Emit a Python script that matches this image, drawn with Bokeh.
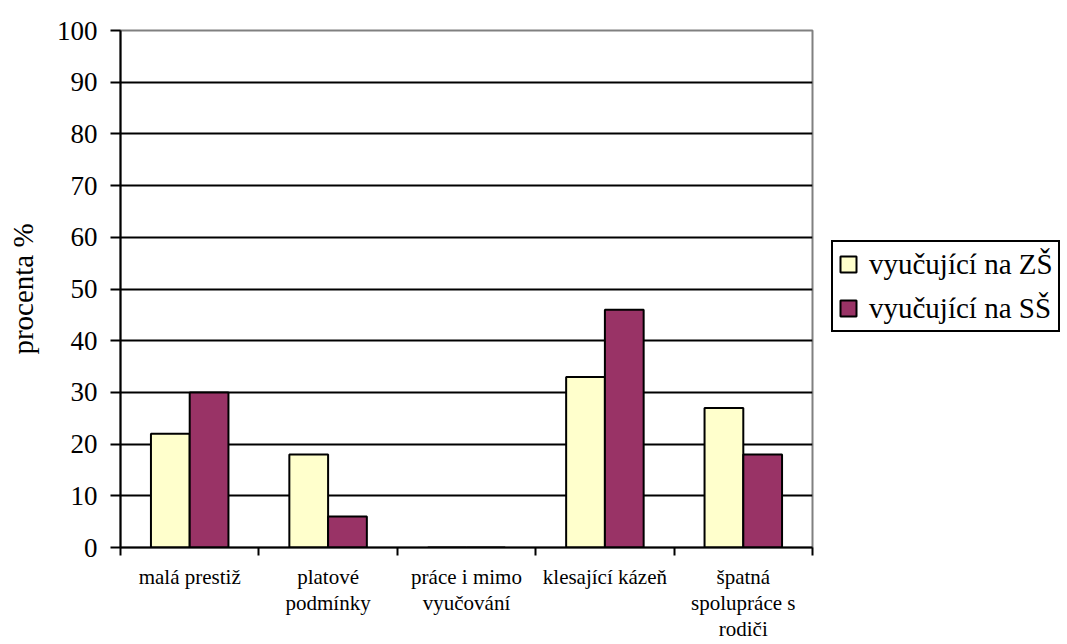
from bokeh.plotting import figure
from bokeh.layouts import row
from bokeh.models import (FactorRange, Range1d, LinearAxis, CategoricalAxis, FixedTicker,
                          ColumnDataSource, Legend, LegendItem)
from bokeh.transform import dodge
from bokeh.embed import file_html
from bokeh.resources import INLINE

categories = ["malá prestiž", "platové\npodmínky", "práce i mimo\nvyučování",
              "klesající kázeň", "špatná\nspolupráce s\nrodiči"]
zs_values = [22, 18, 0, 33, 27]
ss_values = [30, 6, 0, 46, 18]
series_names = ["vyučující na ZŠ", "vyučující na SŠ"]
y_ticks = [0, 10, 20, 30, 40, 50, 60, 70, 80, 90, 100]

FONT = "Liberation Serif"
ZS_COLOR = "#FFFFCC"
SS_COLOR = "#993366"

src = ColumnDataSource(dict(cat=categories, zs=zs_values, ss=ss_values))

p = figure(width=830, height=644, x_range=FactorRange(factors=categories, range_padding=0),
           y_range=Range1d(0, 100), output_backend="svg", toolbar_location=None,
           x_axis_location=None, y_axis_location=None,
           min_border_left=120, min_border_right=18, min_border_top=30, min_border_bottom=97,
           background_fill_color="white", border_fill_color="white")

p.outline_line_color = "#808080"
p.outline_line_width = 2
p.xgrid.visible = False
p.ygrid.ticker = FixedTicker(ticks=y_ticks[1:-1])
p.ygrid.grid_line_color = "black"
p.ygrid.grid_line_width = 2

bw = 0.28
r1 = p.vbar(x=dodge("cat", -bw/2, range=p.x_range), top="zs", width=bw, source=src,
            fill_color=ZS_COLOR, line_color="black", line_width=2)
r2 = p.vbar(x=dodge("cat", bw/2, range=p.x_range), top="ss", width=bw, source=src,
            fill_color=SS_COLOR, line_color="black", line_width=2)

# y axis
yax = LinearAxis(ticker=FixedTicker(ticks=y_ticks), axis_label="procenta %")
yax.axis_line_color = "black"; yax.axis_line_width = 2
yax.major_tick_line_color = "black"; yax.major_tick_line_width = 2
yax.major_tick_out = 10; yax.major_tick_in = 0
yax.minor_tick_line_color = None
yax.major_label_text_font = FONT; yax.major_label_text_font_size = "27px"
yax.major_label_text_color = "black"
yax.major_label_standoff = 13
yax.axis_label_text_font = FONT; yax.axis_label_text_font_size = "29px"
yax.axis_label_text_font_style = "normal"; yax.axis_label_text_color = "black"
yax.axis_label_standoff = 15
p.add_layout(yax, "left")

# boundary tick axis (synthetic coordinates of the factor range: 0..n), minor ticks only
bax = LinearAxis(ticker=FixedTicker(ticks=[], minor_ticks=list(range(len(categories) + 1))))
bax.axis_line_color = "black"; bax.axis_line_width = 2
bax.major_tick_line_color = None
bax.minor_tick_line_color = "black"; bax.minor_tick_line_width = 2
bax.minor_tick_out = 8; bax.minor_tick_in = 0
bax.major_label_standoff = 0
p.add_layout(bax, "below")

cax = CategoricalAxis()
cax.axis_line_color = None
cax.major_tick_line_color = None
cax.minor_tick_line_color = None
cax.major_label_text_font = FONT; cax.major_label_text_font_size = "21px"
cax.major_label_text_line_height = 1.1
cax.major_label_text_color = "black"
cax.major_label_standoff = 3
cax.major_label_orientation = "horizontal"
p.add_layout(cax, "below")

# legend panel (separate figure to the right); its range holds only the series names,
# so the category bars given to it are not placed anywhere and only their legend swatches show
lp = figure(width=237, height=644, x_range=FactorRange(factors=series_names),
            y_range=Range1d(0, 100), output_backend="svg", toolbar_location=None,
            x_axis_location=None, y_axis_location=None,
            min_border_left=0, min_border_right=0, min_border_top=0, min_border_bottom=0,
            background_fill_color="white", border_fill_color="white")
lp.outline_line_color = None
lp.xgrid.visible = False
lp.ygrid.visible = False
lr1 = lp.vbar(x="cat", top="zs", width=bw, source=src,
              fill_color=ZS_COLOR, line_color="black", line_width=2)
lr2 = lp.vbar(x="cat", top="ss", width=bw, source=src,
              fill_color=SS_COLOR, line_color="black", line_width=2)

legend = Legend(items=[LegendItem(label=series_names[0], renderers=[lr1]),
                       LegendItem(label=series_names[1], renderers=[lr2])],
                location=(1, 215))
legend.label_text_font = FONT
legend.label_text_font_size = "29px"
legend.label_text_color = "black"
legend.border_line_color = "black"
legend.border_line_alpha = 1
legend.border_line_width = 2
legend.glyph_width = 20; legend.glyph_height = 20
legend.label_height = 34
legend.label_standoff = 11
legend.padding = 5
legend.spacing = 10
legend.margin = 0
legend.background_fill_alpha = 1
lp.add_layout(legend, "center")

open("out.html", "w").write(file_html(row(p, lp), INLINE))
